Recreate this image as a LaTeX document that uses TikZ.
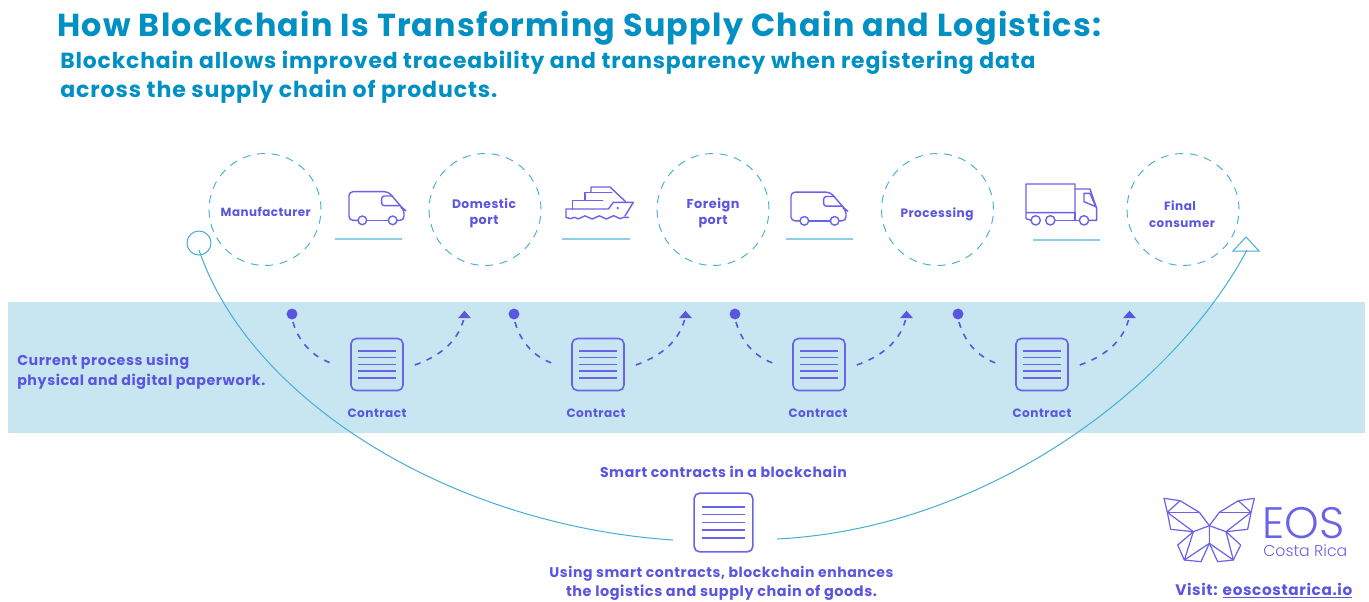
\documentclass[tikz,border=0pt]{standalone}
\usepackage{fontspec}
\setmainfont{Poppins}
\newfontfamily\trk[LetterSpace=4]{Poppins}
\newfontfamily\lightf{Poppins Light}
\usetikzlibrary{calc}
\definecolor{titleblue}{HTML}{0090C4}
\definecolor{violet}{HTML}{5B55E0}
\definecolor{iconv}{HTML}{6A62E8}
\definecolor{band}{HTML}{C8E6F2}
\definecolor{cyanl}{HTML}{45AED4}
\definecolor{rulec}{HTML}{8CCFE6}
\newcommand{\fitw}[2]{\resizebox{\dimexpr #1pt*3/4\relax}{!}{#2}}
\tikzset{
  stop/.style={circle,draw=cyanl,dash pattern=on 6pt off 5pt,line width=.7pt,minimum size=84pt,inner sep=0pt},
  lab/.style={inner sep=0pt,text=violet,font=\trk\bfseries},
  stoplab/.style={lab,anchor=base},
  ttl/.style={inner sep=0pt,text=titleblue,font=\trk\bfseries,anchor=base west},
  doc/.style={draw=iconv,line width=1.2pt,rounded corners=4pt,inner sep=0pt,fill=none},
  docline/.style={draw=iconv,line width=1pt},
  icon/.style={draw=iconv,line width=1.05pt,line join=round,line cap=round},
  flow/.style={draw=violet,line width=1.2pt,dash pattern=on 4.5pt off 5pt},
  rulel/.style={draw=rulec,line width=1pt},
  big/.style={draw=cyanl,line width=.75pt},
  logo/.style={draw=iconv,line width=.9pt,line join=round}
}
% name, x, y, half width of the lines, scale of the line spacing, node size (pt)
\newcommand{\contract}[6]{%
  \node[doc,minimum width=#6pt,minimum height=#6pt] (#1) at (#2,#3) {};
  \foreach \dy in {-13.5,-7,0,6.5,13.5}
    \draw[docline] (#2-#4,#3+#5*\dy) -- (#2+#4,#3+#5*\dy);
}
\newcommand{\van}[2]{%
  \begin{scope}[shift={(#1,#2)},scale=1/3]
    \draw[icon,rounded corners=3pt] (534,241) -- (507,241) -- (507,155) -- (625,155) -- (668,205) -- (672,208) -- (672,241) -- (652,241);
    \draw[icon] (560,241) -- (625,241);
    \draw[icon,rounded corners=2pt] (637,168) -- (605,168) -- (605,197) -- (660,197);
    \draw[icon] (547,241) circle (13);
    \draw[icon] (638,241) circle (13);
  \end{scope}
}
\begin{document}
\begin{tikzpicture}[x=.75pt,y=-.75pt]
\useasboundingbox (0,0) rectangle (1369,601);
\fill[white] (0,0) rectangle (1369,601);
\fill[band] (8,302) rectangle (1365,433);

% headings
\node[ttl] (t1) at (57,36) {\fitw{1044}{How Blockchain Is Transforming Supply Chain and Logistics:}};
\node[ttl] (t2) at (60,68) {\fitw{975}{Blockchain allows improved traceability and transparency when registering data}};
\node[ttl] (t3) at (60,97) {\fitw{437}{across the supply chain of products.}};

% stops
\node[stop] (m) at (265,209.5) {};
\node[stop] (dp) at (485,209.5) {};
\node[stop] (fp) at (713,209.5) {};
\node[stop] (pr) at (937.5,209.5) {};
\node[stop] (fc) at (1183,209.5) {};
\node[stoplab] (ml) at (265.7,216) {\fitw{90}{Manufacturer}};
\node[stoplab] (dl1) at (484,208) {\fitw{64}{Domestic}};
\node[stoplab] (dl2) at (484,224.5) {\fitw{29}{port}};
\node[stoplab] (fl1) at (713,208) {\fitw{53}{Foreign}};
\node[stoplab] (fl2) at (713,224.5) {\fitw{29}{port}};
\node[stoplab] (pl) at (937,217) {\fitw{73}{Processing}};
\node[stoplab] (cl1) at (1180,210) {\fitw{32}{Final}};
\node[stoplab] (cl2) at (1182,227) {\fitw{66}{consumer}};

% underlines
\draw[rulel] (335,239) -- (402,239);
\draw[rulel] (562,239) -- (630,239);
\draw[rulel] (786,239) -- (853,239);
\draw[rulel] (1033,240) -- (1100,240);

% vehicles
\van{180}{140}
\van{622}{140.5}
\begin{scope}[shift={(180,140)},scale=1/3]
  \draw[icon] (1233,155) -- (1233,141) -- (1290,141) -- (1337,185);
  \draw[icon] (1215,180) -- (1215,157) -- (1295,157);
  \draw[icon] (1178,207) -- (1178,182) -- (1268,182);
  \draw[icon] (1158,232) -- (1158,207) -- (1285,207) -- (1300,187) -- (1360,187) -- (1335,228);
  \draw[icon] (1158,232) to[bend right=30] (1184,232) to[bend right=50] (1205,232) to[bend left=50] (1225,232) to[bend right=50] (1248,232) to[bend left=50] (1268,232) to[bend right=50] (1290,232) to[bend left=50] (1312,232) to[bend right=50] (1330,232) -- (1345,232);
  \fill[iconv] (1313,204) circle (4);
\end{scope}
\begin{scope}[shift={(760,140)},scale=1/3]
  \draw[icon] (813,241) -- (798,236) -- (798,132) -- (945,132) -- (945,218) -- (798,218);
  \draw[icon] (945,147) -- (990,147) -- (1010,205) -- (1010,241) -- (988,241);
  \draw[icon] (885,241) -- (958,241);
  \draw[icon] (945,218) -- (945,241);
  \draw[icon] (972,160) -- (990,160) -- (1007,200) -- (972,185) -- cycle;
  \draw[icon] (827,241) circle (14);
  \draw[icon] (871,241) circle (14);
  \draw[icon] (972,241) circle (14);
\end{scope}

% contracts
\contract{c1}{377}{364.5}{19}{1}{39}
\contract{c2}{598}{364.5}{19}{1}{39}
\contract{c3}{819}{364.5}{19}{1}{39}
\contract{c4}{1042}{364.5}{19}{1}{39}
\node[lab] (l1) at (377,413) {\fitw{59}{Contract}};
\node[lab] (l2) at (596,413) {\fitw{59}{Contract}};
\node[lab] (l3) at (818,413) {\fitw{59}{Contract}};
\node[lab] (l4) at (1042,413) {\fitw{59}{Contract}};
\node[lab,anchor=base west] (cur1) at (17,365) {\fitw{172}{Current process using}};
\node[lab,anchor=base west] (cur2) at (17,385) {\fitw{248}{physical and digital paperwork.}};

% flow connectors
\foreach \n/\dx/\tx [count=\i] in {c1/292/464.5,c2/514/685.5,c3/735/906.5,c4/958/1129.5}{
  \node[circle,fill=violet,minimum size=8.2pt,inner sep=0pt] (d\i) at (\dx,314) {};
  \fill[violet] (\tx-6.3,318) -- (\tx,310.7) -- (\tx+6.3,318) -- cycle;
  \coordinate (a\i) at (\tx-1,320);
  \draw[flow] ($(d\i)+(1,8)$) .. controls +(5,18) and +(-21,-7) .. ($(\n.west)+(-18,-1)$);
  \draw[flow] ($(\n.east)+(11,0.5)$) .. controls +(20,-7) and +(-7,25) .. (a\i);
}

% blockchain arc
\contract{big}{723.5}{522.5}{21.5}{1.15}{44}
\node[lab] (s1) at (723.5,472) {\fitw{247}{Smart contracts in a blockchain}};
\node[lab] (s2) at (721.5,574) {\fitw{344}{Using smart contracts, blockchain enhances}};
\node[lab] (s3) at (721.5,593) {\fitw{311}{the logistics and supply chain of goods.}};
\node[circle,draw=cyanl,line width=.75pt,minimum size=18pt,inner sep=0pt] (st) at (199,243) {};
\coordinate (bl) at (673,540);
\coordinate (br) at (777,539);
\coordinate (tip) at (1247,250);
\draw[big] (199,250) .. controls (250,400) and (450,525) .. (bl);
\draw[big] (br) .. controls (990,528) and (1175,385) .. (tip);
\draw[big] (1233,251) -- (1246,237) -- (1259,251) -- cycle;

% logo
\begin{scope}[shift={(1150,480)},scale=1/3]
  \draw[logo] (42,55) -- (90,62) -- (148,97) -- (178,137) -- (178,190) -- (153,245) -- (103,240) -- (83,195) -- (130,155) -- (62,148) -- (52,97) -- cycle;
  \draw[logo] (52,97) -- (90,62);
  \draw[logo] (52,97) -- (148,97);
  \draw[logo] (52,97) -- (130,155) -- (178,137);
  \draw[logo] (130,155) -- (103,240) -- (178,190);
  \draw[logo] (313,55) -- (265,62) -- (208,97) -- (178,137);
  \draw[logo] (178,190) -- (203,245) -- (250,240) -- (272,195) -- (228,155) -- (293,148) -- (303,97) -- (313,55);
  \draw[logo] (303,97) -- (265,62);
  \draw[logo] (303,97) -- (208,97);
  \draw[logo] (303,97) -- (228,155) -- (178,137);
  \draw[logo] (228,155) -- (250,240) -- (178,190);
\end{scope}
\node[anchor=base west,inner sep=0pt,text=iconv,font=\lightf] (eos) at (1262,538) {\fitw{82}{EOS}};
\node[anchor=base west,inner sep=0pt,text=iconv,font=\lightf] (cr) at (1263,556) {\fitw{84}{Costa Rica}};
\node[lab,anchor=base west] (vis) at (1175,595) {\fitw{177}{Visit: \underline{eoscostarica.io}}};
\end{tikzpicture}
\end{document}
